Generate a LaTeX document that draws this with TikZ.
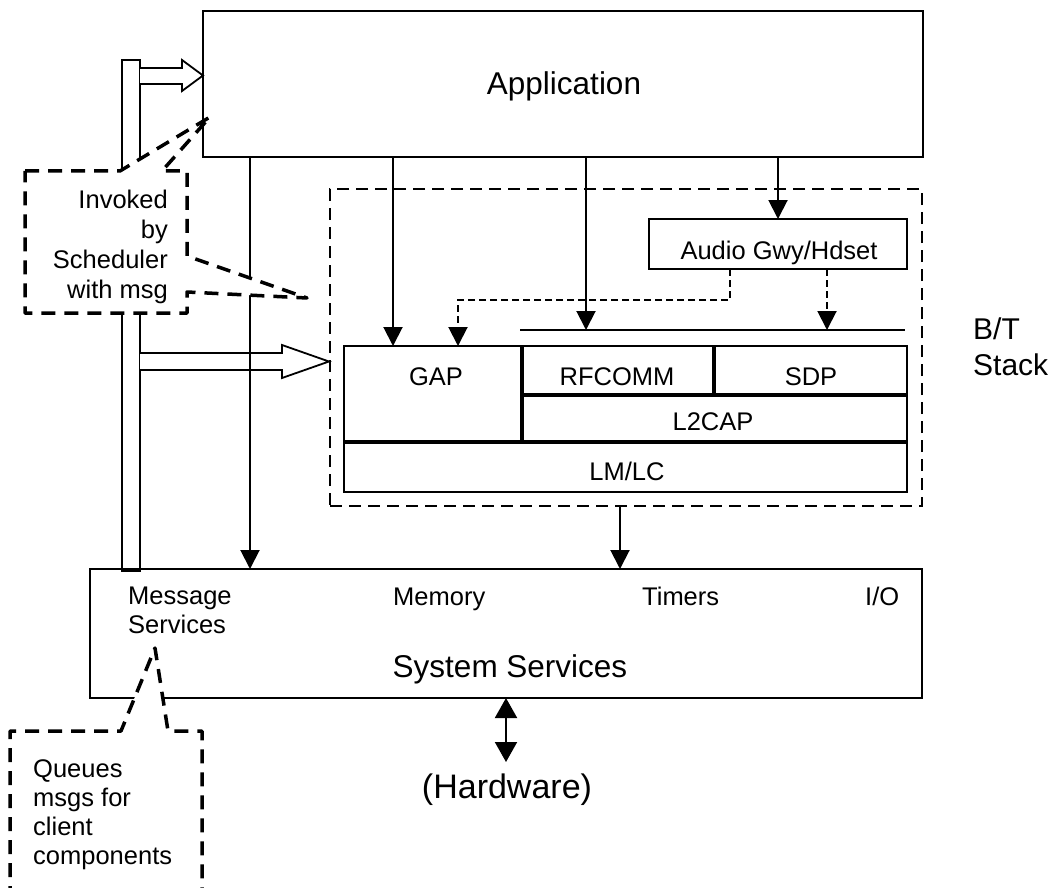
\documentclass[tikz,border=0pt]{standalone}
\usepackage{fontspec}
\setmainfont{Liberation Sans}
\usetikzlibrary{arrows.meta}

\tikzset{
  blk/.style={draw, line width=1.8pt, inner sep=0pt, outer sep=0pt, anchor=north west},
  frame/.style={draw, line width=2pt, dash pattern=on 12pt off 7pt, inner sep=0pt, outer sep=0pt, anchor=north west},
  divider/.style={line width=4pt},
  conn/.style={line width=2pt, -{Triangle[length=19pt,width=19pt]}},
  dconn/.style={conn, dash pattern=on 7pt off 4pt},
  hwconn/.style={line width=2pt, {Triangle[length=20pt,width=22pt]}-{Triangle[length=20pt,width=22pt]}},
  fatarrow/.style={draw, fill=white, line width=1.8pt},
  callout/.style={draw, fill=white, line width=3.5pt, dash pattern=on 14pt off 9pt, line join=round},
  lbl/.style={inner sep=0pt, anchor=base, font=\fontsize{25.5}{30}\selectfont},
  lblw/.style={lbl, anchor=base west},
  biglbl/.style={inner sep=0pt, anchor=base, font=\fontsize{31.5}{36}\selectfont},
}

\begin{document}
\begin{tikzpicture}[x=1pt, y=-1pt]
\useasboundingbox (0,0) rectangle (1055,888);

% scheduler bar and its two hollow arrows
\node[blk, fill=white, minimum width=18pt, minimum height=511pt] (bar) at (122,60) {};
\draw[fatarrow] (140,68) -- (182,68) -- (182,60) -- (203,75.5) -- (182,91) -- (182,84) -- (140,84);
\draw[fatarrow] (140,353) -- (282,353) -- (282,345) -- (329,361.5) -- (282,378) -- (282,370) -- (140,370);

% main layers
\node[blk, minimum width=720pt, minimum height=146pt] (app) at (203,11) {};
\node[biglbl] (appT) at (564,95) {Application};

\node[frame, minimum width=592pt, minimum height=317pt] (bt) at (330,189) {};
\node[inner sep=0pt, anchor=north west, align=left, font=\fontsize{30}{36}\selectfont] (btT) at (973,318) {B/T\\Stack};

\node[blk, minimum width=258pt, minimum height=50pt] (audio) at (649,219) {};
\node[lbl] (audioT) at (779,259) {Audio Gwy/Hdset};

% Bluetooth stack blocks
\node[blk, minimum width=178pt, minimum height=96pt] (gap) at (344,346) {};
\node[blk, minimum width=192pt, minimum height=49pt] (rfcomm) at (522,346) {};
\node[blk, minimum width=193pt, minimum height=49pt] (sdp) at (714,346) {};
\node[blk, minimum width=385pt, minimum height=47pt] (l2cap) at (522,395) {};
\node[blk, minimum width=563pt, minimum height=50pt] (lmlc) at (344,442) {};
\draw[divider] (gap.north east) -- (gap.south east);
\draw[divider] (rfcomm.north east) -- (rfcomm.south east);
\draw[divider] (l2cap.north west) -- (l2cap.north east);
\draw[divider] (lmlc.north west) -- (lmlc.north east);
\node[lbl] (gapT) at (436,385) {GAP};
\node[lbl] (rfcommT) at (617,385) {RFCOMM};
\node[lbl] (sdpT) at (811,385) {SDP};
\node[lbl] (l2capT) at (713,430) {L2CAP};
\node[lbl] (lmlcT) at (627,480) {LM/LC};

% bus line above RFCOMM and SDP
\coordinate (busL) at (520,330);
\coordinate (busR) at (905,330);
\draw[line width=2pt] (busL) -- (busR);

% system services
\node[blk, minimum width=832pt, minimum height=129pt] (sys) at (90,569) {};
\node[inner sep=0pt, anchor=north west, align=left, font=\fontsize{25.5}{29}\selectfont] (msgT) at (128,587) {Message\\Services};
\node[lblw] (memT) at (393,605) {Memory};
\node[lblw] (timT) at (642,605) {Timers};
\node[lblw] (ioT) at (865,605) {I/O};
\node[biglbl] (sysT) at (510,677) {System Services};

% hardware
\coordinate (hwtop) at (506,762);
\node[inner sep=0pt, anchor=base, font=\fontsize{34}{40}\selectfont] (hw) at (507,798) {(Hardware)};
\draw[hwconn] (sys.south -| hwtop) -- (hwtop);

% calls from the application
\coordinate (x1) at (250,0);
\coordinate (x2) at (393,0);
\coordinate (x3) at (586,0);
\coordinate (x4) at (778,0);
\coordinate (x5) at (620,0);
\draw[conn] (app.south -| x1) -- (sys.north -| x1);
\draw[conn] (app.south -| x2) -- (gap.north -| x2);
\draw[conn] (app.south -| x3) -- (busL -| x3);
\draw[conn] (app.south -| x4) -- (audio.north -| x4);
\draw[conn] (bt.south -| x5) -- (sys.north -| x5);

% audio profile uses GAP and the upper layers
\coordinate (d1) at (730,300);
\coordinate (d2) at (458,300);
\coordinate (d3) at (827,0);
\draw[dconn] (audio.south -| d1) -- (d1) -- (d2) -- (gap.north -| d2);
\draw[dconn] (audio.south -| d3) -- (busL -| d3);

% callouts
\draw[callout] (25,171) -- (120,171) -- (210,117) -- (162,171) -- (187,171) -- (187,256)
  -- (307,298) -- (187,292) -- (187,313) -- (25,313) -- cycle;
\node[inner sep=0pt, anchor=north east, align=right, font=\fontsize{25.5}{30}\selectfont] (invT) at (168,189.5) {Invoked\\by\\Scheduler\\with msg};

\draw[callout] (10,900) -- (10,731) -- (121,731) -- (155,648) -- (168,731) -- (202,731) -- (202,900);
\node[inner sep=0pt, anchor=north west, align=left, font=\fontsize{25.5}{29}\selectfont] (qT) at (33,759) {Queues\\msgs for\\client\\components};
\end{tikzpicture}
\end{document}
